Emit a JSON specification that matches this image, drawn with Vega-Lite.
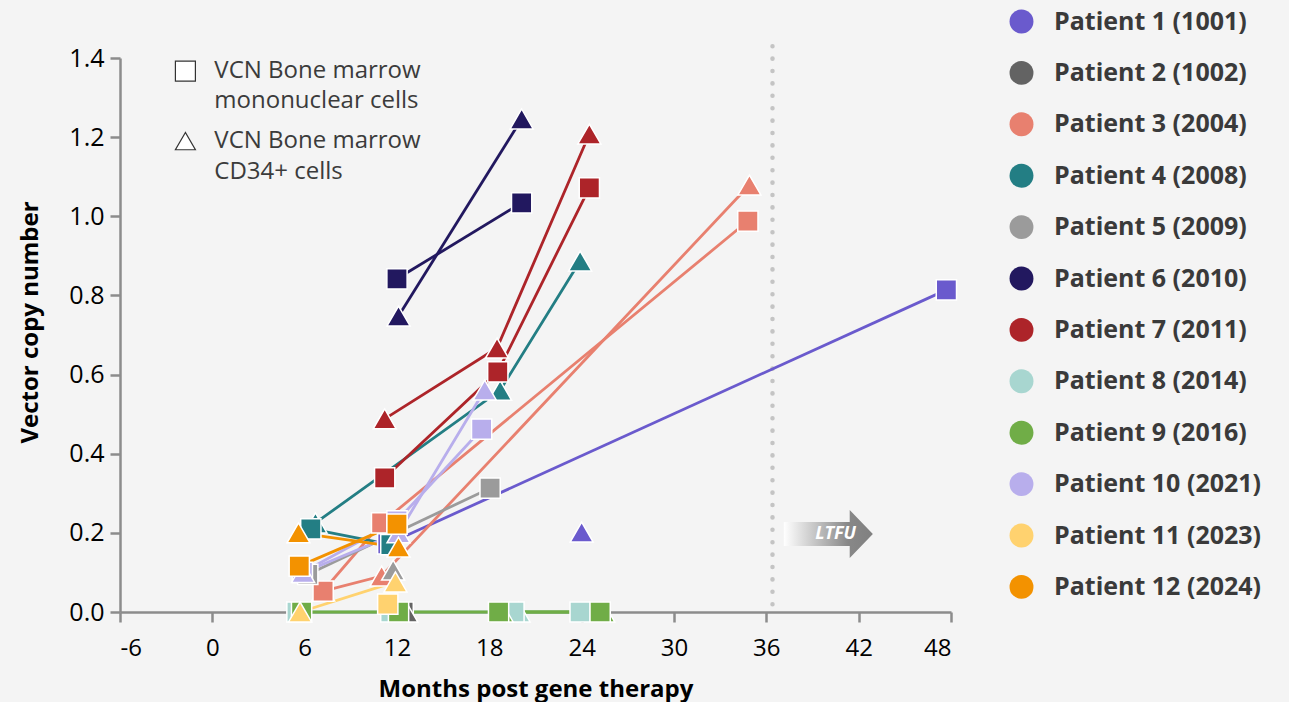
{
  "$schema": "https://vega.github.io/schema/vega-lite/v6.json",
  "width": 831,
  "height": 554,
  "autosize": {"type": "none"},
  "padding": {"left": 120, "top": 58, "right": 338, "bottom": 90},
  "background": "#f4f4f4",
  "config": {
    "view": {"stroke": null},
    "font": "Open Sans",
    "axis": {
      "domainColor": "#8c8c8c", "domainWidth": 2.5, "tickColor": "#8c8c8c", "tickWidth": 2.5, "tickSize": 10,
      "labelFont": "Open Sans", "labelFontSize": 24, "labelColor": "#000000", "grid": false,
      "titleFont": "Open Sans", "titleFontWeight": "bold", "titleFontSize": 24, "titleColor": "#000000"
    }
  },
  "resolve": {"scale": {"color": "independent"}, "legend": {"color": "independent"}},
  "datasets": {
    "vcn": [
      {"patient": "Patient 1 (1001)", "cell": "MNC", "month": 11.4, "vcn": 0.172},
      {"patient": "Patient 1 (1001)", "cell": "MNC", "month": 47.7, "vcn": 0.814},
      {"patient": "Patient 1 (1001)", "cell": "CD34", "month": 24.0, "vcn": 0.202},
      {"patient": "Patient 2 (1002)", "cell": "MNC", "month": 12.4, "vcn": 0.0},
      {"patient": "Patient 2 (1002)", "cell": "CD34", "month": 12.6, "vcn": 0.0},
      {"patient": "Patient 3 (2004)", "cell": "CD34", "month": 7.2, "vcn": 0.053},
      {"patient": "Patient 3 (2004)", "cell": "MNC", "month": 7.2, "vcn": 0.053},
      {"patient": "Patient 3 (2004)", "cell": "MNC", "month": 11.0, "vcn": 0.225},
      {"patient": "Patient 3 (2004)", "cell": "CD34", "month": 11.0, "vcn": 0.091},
      {"patient": "Patient 3 (2004)", "cell": "MNC", "month": 34.8, "vcn": 0.988},
      {"patient": "Patient 3 (2004)", "cell": "CD34", "month": 34.9, "vcn": 1.079},
      {"patient": "Patient 4 (2008)", "cell": "CD34", "month": 6.7, "vcn": 0.225},
      {"patient": "Patient 4 (2008)", "cell": "MNC", "month": 6.4, "vcn": 0.21},
      {"patient": "Patient 4 (2008)", "cell": "MNC", "month": 11.6, "vcn": 0.17},
      {"patient": "Patient 4 (2008)", "cell": "CD34", "month": 18.7, "vcn": 0.56},
      {"patient": "Patient 4 (2008)", "cell": "CD34", "month": 23.9, "vcn": 0.887},
      {"patient": "Patient 5 (2009)", "cell": "MNC", "month": 6.2, "vcn": 0.095},
      {"patient": "Patient 5 (2009)", "cell": "MNC", "month": 18.05, "vcn": 0.313},
      {"patient": "Patient 5 (2009)", "cell": "CD34", "month": 11.75, "vcn": 0.106},
      {"patient": "Patient 6 (2010)", "cell": "MNC", "month": 12.0, "vcn": 0.842},
      {"patient": "Patient 6 (2010)", "cell": "MNC", "month": 20.1, "vcn": 1.034},
      {"patient": "Patient 6 (2010)", "cell": "CD34", "month": 12.1, "vcn": 0.748},
      {"patient": "Patient 6 (2010)", "cell": "CD34", "month": 20.1, "vcn": 1.246},
      {"patient": "Patient 7 (2011)", "cell": "MNC", "month": 11.2, "vcn": 0.339},
      {"patient": "Patient 7 (2011)", "cell": "MNC", "month": 18.55, "vcn": 0.607},
      {"patient": "Patient 7 (2011)", "cell": "MNC", "month": 24.5, "vcn": 1.072},
      {"patient": "Patient 7 (2011)", "cell": "CD34", "month": 11.2, "vcn": 0.488},
      {"patient": "Patient 7 (2011)", "cell": "CD34", "month": 18.5, "vcn": 0.667},
      {"patient": "Patient 7 (2011)", "cell": "CD34", "month": 24.5, "vcn": 1.208},
      {"patient": "Patient 8 (2014)", "cell": "CD34", "month": 19.9, "vcn": 0.0},
      {"patient": "Patient 8 (2014)", "cell": "MNC", "month": 5.5, "vcn": 0.0},
      {"patient": "Patient 8 (2014)", "cell": "MNC", "month": 11.6, "vcn": 0.0},
      {"patient": "Patient 8 (2014)", "cell": "MNC", "month": 19.6, "vcn": 0.0},
      {"patient": "Patient 8 (2014)", "cell": "MNC", "month": 23.9, "vcn": 0.0},
      {"patient": "Patient 9 (2016)", "cell": "CD34", "month": 18.8, "vcn": 0.0},
      {"patient": "Patient 9 (2016)", "cell": "CD34", "month": 25.4, "vcn": 0.0},
      {"patient": "Patient 9 (2016)", "cell": "MNC", "month": 5.8, "vcn": 0.0},
      {"patient": "Patient 9 (2016)", "cell": "MNC", "month": 12.1, "vcn": 0.0},
      {"patient": "Patient 9 (2016)", "cell": "MNC", "month": 18.6, "vcn": 0.0},
      {"patient": "Patient 9 (2016)", "cell": "MNC", "month": 25.2, "vcn": 0.0},
      {"patient": "Patient 10 (2021)", "cell": "MNC", "month": 5.85, "vcn": 0.1},
      {"patient": "Patient 10 (2021)", "cell": "MNC", "month": 12.0, "vcn": 0.23},
      {"patient": "Patient 10 (2021)", "cell": "MNC", "month": 17.5, "vcn": 0.462},
      {"patient": "Patient 10 (2021)", "cell": "CD34", "month": 5.9, "vcn": 0.1},
      {"patient": "Patient 10 (2021)", "cell": "CD34", "month": 12.1, "vcn": 0.2},
      {"patient": "Patient 10 (2021)", "cell": "CD34", "month": 17.7, "vcn": 0.561},
      {"patient": "Patient 11 (2023)", "cell": "CD34", "month": 5.7, "vcn": 0.0},
      {"patient": "Patient 11 (2023)", "cell": "CD34", "month": 11.9, "vcn": 0.076},
      {"patient": "Patient 11 (2023)", "cell": "MNC", "month": 11.4, "vcn": 0.02},
      {"patient": "Patient 12 (2024)", "cell": "MNC", "month": 5.65, "vcn": 0.116},
      {"patient": "Patient 12 (2024)", "cell": "MNC", "month": 12.0, "vcn": 0.222},
      {"patient": "Patient 12 (2024)", "cell": "CD34", "month": 5.6, "vcn": 0.2},
      {"patient": "Patient 12 (2024)", "cell": "CD34", "month": 12.1, "vcn": 0.164}
    ]
  },
  "layer": [
    {
      "data": {"values": [{"month": 36.4, "top": 1.43, "bottom": 0.015}]},
      "mark": {"type": "rule", "color": "#c4c4c4", "strokeWidth": 4.5, "strokeDash": [0.1, 12.3], "strokeCap": "round"},
      "encoding": {
        "x": {"field": "month", "type": "quantitative", "scale": {"domain": [-6, 48], "nice": false, "zero": false}},
        "y": {"field": "top", "type": "quantitative"},
        "y2": {"field": "bottom"}
      }
    },
    {
      "data": {"name": "vcn"},
      "mark": {"type": "line", "strokeWidth": 2.8},
      "encoding": {
        "x": {"field": "month", "type": "quantitative"},
        "y": {"field": "vcn", "type": "quantitative"},
        "color": {"field": "patient", "type": "nominal", "legend": null,
          "scale": {
            "domain": ["Patient 1 (1001)", "Patient 2 (1002)", "Patient 3 (2004)", "Patient 4 (2008)", "Patient 5 (2009)", "Patient 6 (2010)", "Patient 7 (2011)", "Patient 8 (2014)", "Patient 9 (2016)", "Patient 10 (2021)", "Patient 11 (2023)", "Patient 12 (2024)"],
            "range": ["#6a5acd", "#636363", "#e8806f", "#237e84", "#9b9b9b", "#22185f", "#ad2429", "#a8d6d0", "#70ad47", "#b8aeec", "#ffd26f", "#f39200"]
          }},
        "detail": {"field": "cell"}
      }
    },
    {
      "data": {"name": "vcn"},
      "mark": {"type": "point", "filled": true, "opacity": 1, "stroke": "#ffffff", "strokeWidth": 1.5},
      "encoding": {
        "x": {"field": "month", "type": "quantitative", "scale": {"domain": [-6, 48], "nice": false, "zero": false},
          "axis": {"values": [-6, 0, 6, 12, 18, 24, 30, 36, 42, 48], "labelExpr": "'' + datum.value", "title": "Months post gene therapy", "labelPadding": 14, "titleBaseline": "alphabetic", "titleY": 84}},
        "y": {"field": "vcn", "type": "quantitative", "scale": {"domain": [0, 1.4], "nice": false},
          "axis": {"values": [0, 0.2, 0.4, 0.6, 0.8, 1.0, 1.2, 1.4], "format": ".1f", "title": "Vector copy number", "labelPadding": 6, "labelFontSize": 25, "titleX": -90, "titleY": 264, "titleBaseline": "middle"}},
        "color": {"field": "patient", "type": "nominal",
          "scale": {
            "domain": ["Patient 1 (1001)", "Patient 2 (1002)", "Patient 3 (2004)", "Patient 4 (2008)", "Patient 5 (2009)", "Patient 6 (2010)", "Patient 7 (2011)", "Patient 8 (2014)", "Patient 9 (2016)", "Patient 10 (2021)", "Patient 11 (2023)", "Patient 12 (2024)"],
            "range": ["#6a5acd", "#636363", "#e8806f", "#237e84", "#9b9b9b", "#22185f", "#ad2429", "#a8d6d0", "#70ad47", "#b8aeec", "#ffd26f", "#f39200"]
          },
          "legend": {
            "title": null, "orient": "none", "legendX": 889, "legendY": -49, "padding": 0,
            "symbolType": "circle", "symbolSize": 572, "symbolStrokeWidth": 0, "symbolOpacity": 1,
            "labelFont": "Open Sans", "labelFontWeight": "bold", "labelFontSize": 25, "labelColor": "#3a3a3a",
            "labelOffset": 20, "rowPadding": 25.4, "labelLimit": 400
          }
        },
        "shape": {"field": "cell", "type": "nominal", "scale": {"domain": ["MNC", "CD34"], "range": ["square", "triangle-up"]}, "legend": null},
        "size": {"field": "cell", "type": "nominal", "scale": {"domain": ["MNC", "CD34"], "range": [410, 530]}, "legend": null}
      }
    },
    {
      "data": {"values": [{"cell": "MNC", "month": -1.75, "vcn": 1.367}, {"cell": "CD34", "month": -1.75, "vcn": 1.19}]},
      "mark": {"type": "point", "filled": false, "fill": "#ffffff", "stroke": "#333333", "strokeWidth": 1.2, "size": 400, "opacity": 1},
      "encoding": {
        "x": {"field": "month", "type": "quantitative"},
        "y": {"field": "vcn", "type": "quantitative"},
        "shape": {"field": "cell", "type": "nominal", "legend": null}
      }
    },
    {
      "data": {"values": [
        {"month": 0.13, "vcn": 1.367, "t": "VCN Bone marrow"},
        {"month": 0.13, "vcn": 1.291, "t": "mononuclear cells"},
        {"month": 0.13, "vcn": 1.19, "t": "VCN Bone marrow"},
        {"month": 0.13, "vcn": 1.112, "t": "CD34+ cells"}
      ]},
      "mark": {"type": "text", "align": "left", "baseline": "middle", "font": "Open Sans", "fontSize": 24, "color": "#3b3b3b"},
      "encoding": {
        "x": {"field": "month", "type": "quantitative"},
        "y": {"field": "vcn", "type": "quantitative"},
        "text": {"field": "t"}
      }
    },
    {
      "data": {"values": [{"month": 40.03, "vcn": 0.197}]},
      "mark": {"type": "point", "shape": "M -1 -0.27 L 0.48 -0.27 L 0.48 -0.54 L 1 0 L 0.48 0.54 L 0.48 0.27 L -1 0.27 Z", "size": 7921, "filled": true, "opacity": 1, "strokeWidth": 0,
        "fill": {"gradient": "linear", "x1": 0, "y1": 0, "x2": 1, "y2": 0, "stops": [{"offset": 0, "color": "#ffffff"}, {"offset": 0.72, "color": "#888888"}, {"offset": 1, "color": "#808080"}]}},
      "encoding": {
        "x": {"field": "month", "type": "quantitative"},
        "y": {"field": "vcn", "type": "quantitative"}
      }
    },
    {
      "data": {"values": [{"month": 40.5, "vcn": 0.197, "t": "LTFU"}]},
      "mark": {"type": "text", "align": "center", "baseline": "middle", "font": "Open Sans", "fontSize": 18, "fontStyle": "italic", "fontWeight": "bold", "color": "#ffffff"},
      "encoding": {
        "x": {"field": "month", "type": "quantitative"},
        "y": {"field": "vcn", "type": "quantitative"},
        "text": {"field": "t"}
      }
    }
  ]
}
